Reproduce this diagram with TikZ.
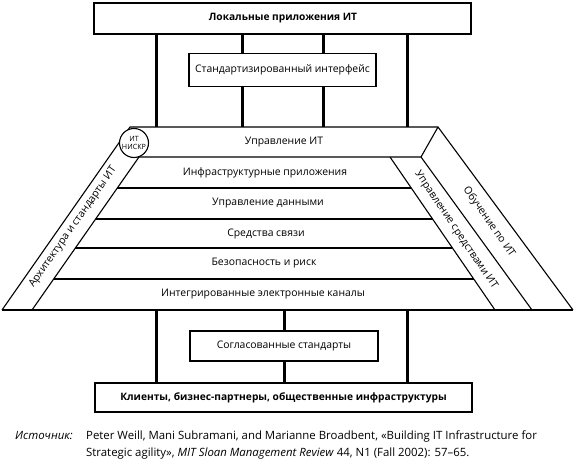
\documentclass[tikz,border=0pt]{standalone}
\usepackage{fontspec}
\setmainfont{Open Sans}
\usetikzlibrary{calc}
\begin{document}
\begin{tikzpicture}[x=1pt,y=-1pt,
  box/.style={draw, line width=1.4pt, fill=white, inner sep=0pt, rectangle},
  edge/.style={line width=1.1pt},
  bar/.style={line width=3pt},
  lbl/.style={font=\fontsize{10.4}{12}\selectfont, inner sep=0pt},
  blbl/.style={font=\fontsize{10.2}{12}\selectfont\bfseries, inner sep=0pt},
  captxt/.style={font=\fontsize{11.4}{13}\selectfont, inner sep=0pt, anchor=base west}]
\useasboundingbox (0,0) rectangle (576,461);

% boxes
\node[box, minimum width=377pt, minimum height=31pt] (top) at (282.5,18.5) {};
\node[blbl] (toplbl) at (283,18.5) {Локальные приложения ИТ};
\node[box, minimum width=187pt, minimum height=33pt] (std) at (282.5,70) {};
\node[lbl] (stdlbl) at (282.5,70) {Стандартизированный интерфейс};
\node[box, minimum width=188pt, minimum height=30pt] (mid) at (284,346) {};
\node[lbl] (midlbl) at (284,346) {Согласованные стандарты};
\node[box, minimum width=377pt, minimum height=29pt] (bot) at (283.5,397.5) {};
\node[blbl] (botlbl) at (283.5,397.5) {Клиенты, бизнес-партнеры, общественные инфраструктуры};

% trapezoid frame coordinates
\coordinate (LOb) at (2,310);
\coordinate (LOt) at (130,127);
\coordinate (LIb) at (32,310);
\coordinate (LIt) at (139,157);
\coordinate (Ab) at (495,310);
\coordinate (At) at (390,157);
\coordinate (Bb) at (532,310);
\coordinate (Bt) at (421,157);
\coordinate (Cb) at (573,310);
\coordinate (Ct) at (438,127);

% bar anchors on trapezoid
\coordinate (tp1) at (156,127);
\coordinate (tp2) at (242,127);
\coordinate (tp3) at (323,127);
\coordinate (tp4) at (407,127);
\coordinate (bp1) at (156,310);
\coordinate (bp2) at (284,310);
\coordinate (bp3) at (407,310);

% bars top
\draw[bar] (top.south -| tp1) -- (tp1);
\draw[bar] (top.south -| tp4) -- (tp4);
\draw[bar] (top.south -| tp2) -- (std.north -| tp2);
\draw[bar] (std.south -| tp2) -- (tp2);
\draw[bar] (top.south -| tp3) -- (std.north -| tp3);
\draw[bar] (std.south -| tp3) -- (tp3);
% bars bottom
\draw[bar] (bp1) -- (bot.north -| bp1);
\draw[bar] (bp3) -- (bot.north -| bp3);
\draw[bar] (bp2) -- (mid.north -| bp2);
\draw[bar] (mid.south -| bp2) -- (bot.north -| bp2);

% frame
\draw[edge] (LOb) -- (Cb);
\draw[edge] (LOb) -- (LOt) -- (Ct) -- (Cb);
\draw[edge] (Ct) -- (Bt) -- (Bb);
\draw[edge] (LIb) -- (LIt) -- (Bt);
\draw[edge] (At) -- (Ab);
\foreach \y in {188,219,248,279}{
  \draw[edge] ($(LIb)!{(310-\y)/153}!(LIt)$) -- ($(Ab)!{(310-\y)/153}!(At)$);
}

% circle
\node[circle, draw, fill=white, line width=1.1pt, minimum size=29pt, inner sep=0pt,
  align=center, font=\fontsize{7.2}{8}\selectfont] (nis) at (134,143) {ИТ\\НИСКР};

% row labels
\node[lbl] (r1) at (284,142) {Управление ИТ};
\node[lbl] (r2) at (265,172.5) {Инфраструктурные приложения};
\node[lbl] (r3) at (268,203.5) {Управление данными};
\node[lbl] (r4) at (266,233.5) {Средства связи};
\node[lbl] (r5) at (264,263.5) {Безопасность и риск};
\node[lbl] (r6) at (263,294.5) {Интегрированные электронные каналы};

% slanted labels
\node[lbl, rotate=55] (arch) at (73,227) {Архитектура и стандарты ИТ};
\node[lbl, rotate=-56] (umg) at (456,230) {Управление средствами ИТ};
\node[lbl, rotate=-55] (learn) at (489,222) {Обучение по ИТ};

% caption
\node[captxt, font=\fontsize{11.4}{13}\selectfont\itshape] (src) at (15,439) {Источник:};
\node[captxt] (c1) at (86,439) {Peter Weill, Mani Subramani, and Marianne Broadbent, «Building IT Infrastructure for};
\node[captxt] (c2) at (86,456) {Strategic agility», \textit{MIT Sloan Management Review} 44, N1 (Fall 2002): 57–65.};
\end{tikzpicture}
\end{document}
